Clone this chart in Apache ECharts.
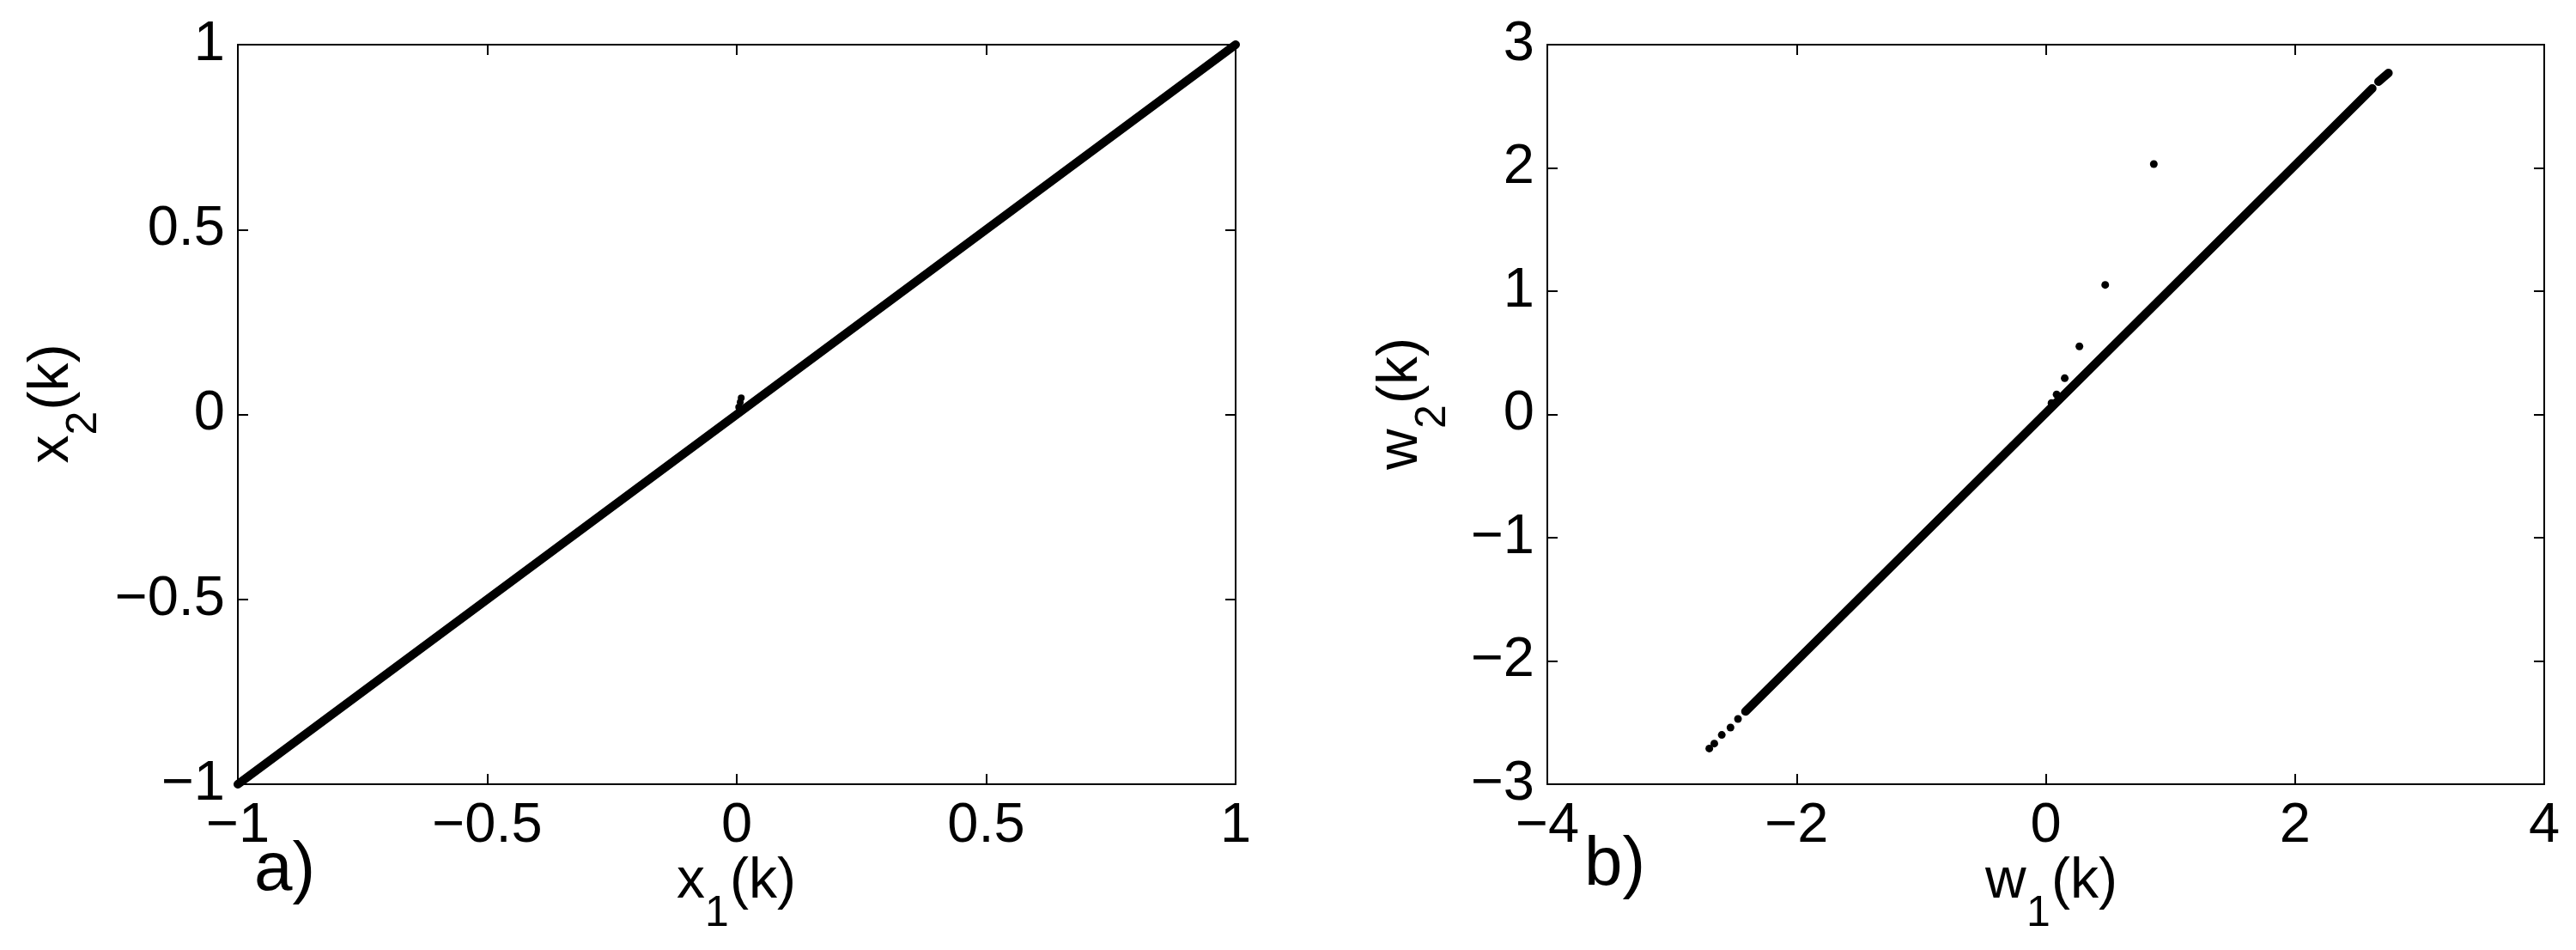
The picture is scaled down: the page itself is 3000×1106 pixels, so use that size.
<!DOCTYPE html>
<html>
<head>
<meta charset="utf-8">
<script src="https://cdn.jsdelivr.net/npm/echarts@6/dist/echarts.min.js"></script>
<style>
html,body{margin:0;padding:0;background:#fff;}
#chart{width:3000px;height:1106px;}
</style>
</head>
<body>
<div id="chart"></div>
<script>
// ---- data ----
// panel a) x2(k) versus x1(k)
const aLine = [[-1, -1], [1, 1]];
const aBlip = [[0.004, 0.02], [0.007, 0.033], [0.009, 0.045]];
// panel b) w2(k) versus w1(k)
const bLine = [[-2.41, -2.41], [2.62, 2.645]];
const bTopDash = [[2.67, 2.70], [2.75, 2.77]];
const bLowTail = [[-2.70, -2.71], [-2.66, -2.67], [-2.60, -2.60], [-2.53, -2.54], [-2.47, -2.47]];
const bOutliers = [[0.867, 2.031], [0.477, 1.051], [0.27, 0.552], [0.152, 0.294], [0.087, 0.162], [0.046, 0.093]];
// tick values
const aXTicks = [-1, -0.5, 0, 0.5, 1];
const aYTicks = [-1, -0.5, 0, 0.5, 1];
const bXTicks = [-4, -2, 0, 2, 4];
const bYTicks = [-3, -2, -1, 0, 1, 2, 3];

// ---- styling ----
const FONT = '"Liberation Sans", Arial, Helvetica, sans-serif';
const TICK_FS = 65;
const chart = echarts.init(document.getElementById('chart'), null, {renderer: 'canvas'});

function fmt(v) {
  return String(v).replace('-', '\u2212');
}

function axis(kind, ticks, gridIndex, position, showLabel) {
  return {
    type: 'value',
    gridIndex: gridIndex,
    position: position,
    min: ticks[0],
    max: ticks[ticks.length - 1],
    interval: ticks[1] - ticks[0],
    axisLine: {show: true, onZero: false, lineStyle: {color: '#000', width: 2}},
    axisTick: {show: true, inside: true, length: 12, lineStyle: {color: '#000', width: 2}},
    splitLine: {show: false},
    axisLabel: {
      show: showLabel,
      color: '#000',
      fontFamily: FONT,
      fontSize: TICK_FS,
      margin: kind === 'x' ? 17 : 15,
      showMinLabel: true,
      showMaxLabel: true,
      formatter: fmt
    }
  };
}

const S = 0.3465; // baseline offset factor for middle-aligned text

function txt(x, baseline, text, fs) {
  return {
    type: 'text',
    style: {x: x, y: baseline - S * fs, text: text, font: fs + 'px ' + FONT,
      fill: '#000', textAlign: 'left', textVerticalAlign: 'middle', verticalAlign: 'middle'}
  };
}

// horizontal axis title with subscript: main letter, subscript digit, "(k)"
function hLabel(x0, baseline, letter, letterW, sub) {
  return {
    type: 'group',
    children: [
      txt(x0, baseline, letter, 66),
      txt(x0 + letterW, baseline + 32, sub, 50),
      txt(x0 + letterW + 29, baseline, '(k)', 66)
    ]
  };
}
// rotated (vertical) axis title
function vLabel(xb, yc, letter, letterW, sub) {
  const total = letterW + 29 + 77;
  const x0 = -total / 2;
  return {
    type: 'group',
    x: xb, y: yc,
    rotation: Math.PI / 2,
    children: [
      txt(x0, 0, letter, 66),
      txt(x0 + letterW, 32, sub, 50),
      txt(x0 + letterW + 29, 0, '(k)', 66)
    ]
  };
}

const lineSeries = (data, xi, yi, w) => ({
  type: 'line', data: data, xAxisIndex: xi, yAxisIndex: yi,
  symbol: 'none', clip: false, silent: true, animation: false,
  lineStyle: {color: '#000', width: w, cap: 'round'}
});
const dotSeries = (data, xi, yi, s) => ({
  type: 'scatter', data: data, xAxisIndex: xi, yAxisIndex: yi,
  symbol: 'circle', symbolSize: s, silent: true, animation: false,
  itemStyle: {color: '#000', opacity: 1}
});

const option = {
  backgroundColor: '#fff',
  animation: false,
  grid: [
    {left: 277, top: 52, width: 1162, height: 861},
    {left: 1802, top: 52, width: 1161, height: 861}
  ],
  xAxis: [
    axis('x', aXTicks, 0, 'bottom', true),
    axis('x', aXTicks, 0, 'top', false),
    axis('x', bXTicks, 1, 'bottom', true),
    axis('x', bXTicks, 1, 'top', false)
  ],
  yAxis: [
    axis('y', aYTicks, 0, 'left', true),
    axis('y', aYTicks, 0, 'right', false),
    axis('y', bYTicks, 1, 'left', true),
    axis('y', bYTicks, 1, 'right', false)
  ],
  series: [
    lineSeries(aLine, 0, 0, 10),
    dotSeries(aBlip, 0, 0, 8),
    lineSeries(bLine, 2, 2, 10),
    lineSeries(bTopDash, 2, 2, 10),
    dotSeries(bLowTail, 2, 2, 9),
    dotSeries(bOutliers, 2, 2, 9)
  ],
  graphic: [
    hLabel(788, 1050, 'x', 33, '1'),
    hLabel(2312, 1050, 'w', 48, '1'),
    vLabel(84, 470, 'x', 33, '2'),
    vLabel(1655, 470, 'w', 48, '2'),
    txt(296, 1042, 'a)', 80),
    txt(1845, 1036, 'b)', 80)
  ]
};
chart.setOption(option);
</script>
</body>
</html>
